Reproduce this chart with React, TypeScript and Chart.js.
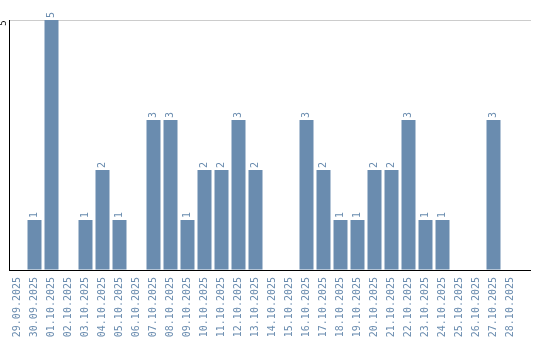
import React, { useEffect, useRef } from "react";
import { Chart, registerables } from "chart.js";

Chart.register(...registerables);

const dates = [
  "29.09.2025", "30.09.2025", "01.10.2025", "02.10.2025", "03.10.2025", "04.10.2025",
  "05.10.2025", "06.10.2025", "07.10.2025", "08.10.2025", "09.10.2025", "10.10.2025",
  "11.10.2025", "12.10.2025", "13.10.2025", "14.10.2025", "15.10.2025", "16.10.2025",
  "17.10.2025", "18.10.2025", "19.10.2025", "20.10.2025", "21.10.2025", "22.10.2025",
  "23.10.2025", "24.10.2025", "25.10.2025", "26.10.2025", "27.10.2025", "28.10.2025",
];
const counts = [0, 1, 5, 0, 1, 2, 1, 0, 3, 3, 1, 2, 2, 3, 2, 0, 0, 3, 2, 1, 1, 2, 2, 3, 1, 1, 0, 0, 3, 0];
const yTicks = [5];

const BAR = "#6a8caf";
const TEXT = "#6a8caf";
const FONT = "DejaVu Sans Mono";
const AXIS_END = 531;

const customDraw = {
  id: "customDraw",
  beforeDatasetsDraw(chart: any) {
    const ctx = chart.ctx;
    const { right, bottom } = chart.chartArea;
    const y = chart.scales.y;
    ctx.save();
    ctx.lineWidth = 1;
    ctx.strokeStyle = "#cccccc";
    yTicks.forEach((t) => {
      const py = Math.round(y.getPixelForValue(t)) + 0.5;
      ctx.beginPath();
      ctx.moveTo(right, py);
      ctx.lineTo(AXIS_END, py);
      ctx.stroke();
    });
    ctx.strokeStyle = "#000";
    const by = Math.round(bottom) + 0.5;
    ctx.beginPath();
    ctx.moveTo(right - 1, by);
    ctx.lineTo(AXIS_END, by);
    ctx.stroke();
    ctx.restore();
  },
  afterDatasetsDraw(chart: any) {
    const ctx = chart.ctx;
    const meta = chart.getDatasetMeta(0);
    const xs = chart.scales.x;
    const y = chart.scales.y;
    ctx.save();
    ctx.fillStyle = TEXT;
    ctx.font = `10px "${FONT}"`;
    ctx.textAlign = "left";
    ctx.textBaseline = "middle";
    meta.data.forEach((bar: any, i: number) => {
      const v = counts[i];
      if (!v) return;
      ctx.save();
      ctx.translate(bar.x, bar.y - 2);
      ctx.rotate(-Math.PI / 2);
      ctx.fillText(String(v), 0, 0);
      ctx.restore();
    });
    // x labels
    ctx.textAlign = "right";
    dates.forEach((d, i) => {
      ctx.save();
      ctx.translate(xs.getPixelForTick(i), chart.chartArea.bottom + 7);
      ctx.rotate(-Math.PI / 2);
      ctx.fillText(d, 0, 0);
      ctx.restore();
    });
    // y labels
    ctx.fillStyle = "#000";
    ctx.font = `9px "${FONT}"`;
    ctx.textAlign = "center";
    yTicks.forEach((t) => {
      ctx.save();
      ctx.translate(4, y.getPixelForValue(t) + 3);
      ctx.rotate(-Math.PI / 2);
      ctx.fillText(String(t), 0, 0);
      ctx.restore();
    });
    ctx.restore();
  },
};

export default function App() {
  const ref = useRef<HTMLCanvasElement>(null);
  useEffect(() => {
    if (!ref.current) return;
    const chart = new Chart(ref.current, {
      type: "bar",
      data: {
        labels: dates,
        datasets: [
          {
            data: counts,
            backgroundColor: BAR,
            barPercentage: 14 / 17,
            categoryPercentage: 1,
          },
        ],
      },
      options: {
        animation: false,
        responsive: false,
        layout: { padding: { top: 20, right: 21, left: 0, bottom: 0 } },
        plugins: { legend: { display: false }, tooltip: { enabled: false } },
        scales: {
          x: {
            grid: { display: false },
            border: { display: true, color: "#000", width: 1 },
            afterFit: (axis: any) => {
              axis.height = 70;
            },
            ticks: { display: false },
          },
          y: {
            min: 0,
            max: 5,
            afterBuildTicks: (axis: any) => {
              axis.ticks = [0, ...yTicks].map((v) => ({ value: v }));
            },
            afterFit: (axis: any) => {
              axis.width = 9;
            },
            grid: {
              drawTicks: false,
              color: (c: any) => (c.tick && c.tick.value === 5 ? "#cccccc" : "rgba(0,0,0,0)"),
            },
            border: { display: true, color: "#000", width: 1 },
            ticks: { display: false },
          },
        },
      },
      plugins: [customDraw],
    });
    return () => chart.destroy();
  }, []);
  return (
    <div style={{ position: "absolute", left: 0, top: 0, width: 540, height: 340 }}>
      <canvas ref={ref} width={540} height={340} />
    </div>
  );
}
